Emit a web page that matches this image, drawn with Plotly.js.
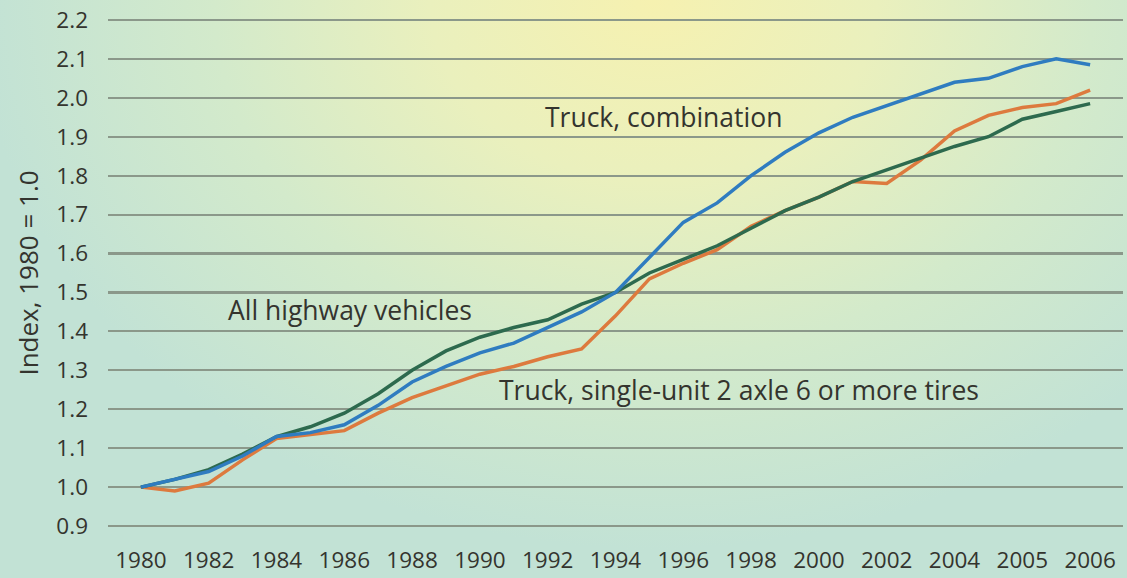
<!DOCTYPE html>
<html>
<head>
<meta charset="utf-8">
<script src="https://cdn.plot.ly/plotly-3.0.1.min.js"></script>
<style>
  html, body { margin: 0; padding: 0; }
  body {
    width: 1127px; height: 578px; overflow: hidden;
    background-color: #c3e3d5;
    background-image: radial-gradient(ellipse 60% 95% at 58% 0%, #f6f1b0 0%, #eaf0bd 33%, #d3eacb 65%, #c2e2d5 100%);
  }
  #chart { width: 1127px; height: 578px; }
</style>
</head>
<body>
<div id="chart"></div>
<script>
// Positions along the axis (one step per data point; labels every two steps)
var positions = [0,1,2,3,4,5,6,7,8,9,10,11,12,13,14,15,16,17,18,19,20,21,22,23,24,25,26,27,28];
var tickPositions = [0,2,4,6,8,10,12,14,16,18,20,22,24,26,28];
var tickLabels = ["1980","1982","1984","1986","1988","1990","1992","1994","1996","1998","2000","2002","2004","2005","2006"];

var truckCombination = [1.00,1.02,1.04,1.08,1.13,1.14,1.16,1.21,1.27,1.31,1.345,1.37,1.41,1.45,1.50,1.59,1.68,1.73,1.80,1.86,1.91,1.95,1.98,2.01,2.04,2.05,2.08,2.10,2.085];
var allHighway = [1.00,1.02,1.045,1.085,1.13,1.155,1.19,1.24,1.30,1.35,1.385,1.41,1.43,1.47,1.50,1.55,1.585,1.62,1.665,1.71,1.745,1.785,1.815,1.845,1.875,1.90,1.945,1.965,1.985];
var truckSingleUnit = [1.00,0.99,1.01,1.07,1.125,1.135,1.145,1.19,1.23,1.26,1.29,1.31,1.335,1.355,1.44,1.535,1.575,1.61,1.67,1.71,1.745,1.785,1.78,1.84,1.915,1.955,1.975,1.985,2.02];

var yTicks = [0.9,1.0,1.1,1.2,1.3,1.4,1.5,1.6,1.7,1.8,1.9,2.0,2.1,2.2];

var textColor = "#34342e";
var labelFont = {family: "Open Sans, sans-serif", size: 26.5, color: textColor};

var traces = [
  {x: positions, y: truckSingleUnit, type: "scatter", mode: "lines", name: "Truck, single-unit 2 axle 6 or more tires",
   line: {color: "#dd7a3e", width: 3.5}},
  {x: positions, y: allHighway, type: "scatter", mode: "lines", name: "All highway vehicles",
   line: {color: "#2d6a4e", width: 3.5}},
  {x: positions, y: truckCombination, type: "scatter", mode: "lines", name: "Truck, combination",
   line: {color: "#2f7cc0", width: 3.5}}
];

var layout = {
  width: 1127, height: 578,
  margin: {l: 108, r: 4, t: 18, b: 50},
  paper_bgcolor: "rgba(0,0,0,0)",
  plot_bgcolor: "rgba(0,0,0,0)",
  showlegend: false,
  font: {family: "Open Sans, sans-serif", color: textColor},
  xaxis: {
    range: [-0.97, 28.97],
    tickmode: "array", tickvals: tickPositions, ticktext: tickLabels,
    showgrid: false, zeroline: false, showline: false, ticks: "",
    tickfont: {family: "Open Sans, sans-serif", size: 22.5, color: textColor},
    ticklabelstandoff: 16
  },
  yaxis: {
    range: [0.895, 2.205],
    tickmode: "array", tickvals: yTicks, tickformat: ".1f",
    showgrid: true, gridcolor: "#8b988a", gridwidth: 2.2,
    zeroline: false, showline: false, ticks: "",
    tickfont: {family: "Open Sans, sans-serif", size: 22.5, color: textColor},
    ticklabelstandoff: 19,
    title: {text: "Index, 1980 = 1.0", font: {family: "Open Sans, sans-serif", size: 26, color: textColor}, standoff: 10}
  },
  annotations: [
    {x: 11.86, y: 1.95, xref: "x", yref: "y", text: "Truck, combination", showarrow: false, xanchor: "left", yanchor: "middle", font: labelFont},
    {x: 2.52, y: 1.455, xref: "x", yref: "y", text: "All highway vehicles", showarrow: false, xanchor: "left", yanchor: "middle", font: labelFont},
    {x: 10.5, y: 1.25, xref: "x", yref: "y", text: "Truck, single-unit 2 axle 6 or more tires", showarrow: false, xanchor: "left", yanchor: "middle", font: labelFont}
  ]
};

Plotly.newPlot("chart", traces, layout, {displayModeBar: false, staticPlot: true});
</script>
</body>
</html>
